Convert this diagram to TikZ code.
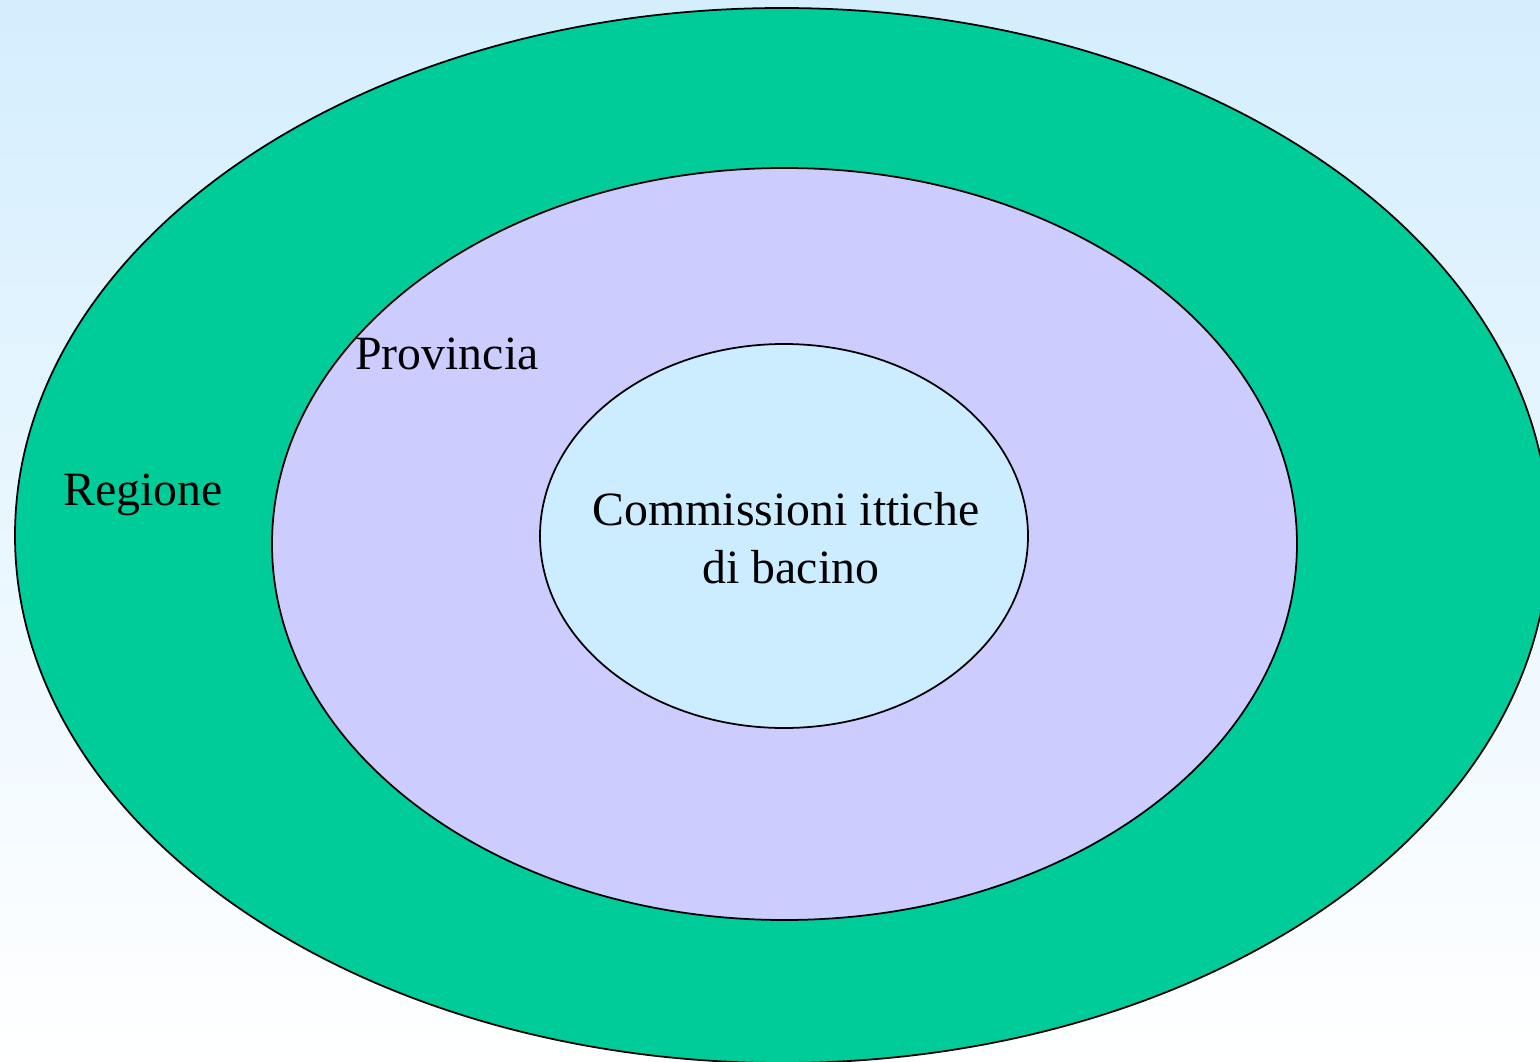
\documentclass[tikz,border=0pt]{standalone}
\usepackage{fontspec}
\setmainfont{Liberation Serif}
\usetikzlibrary{shapes,positioning}

\definecolor{regiongreen}{HTML}{00CC99}
\definecolor{provlilac}{HTML}{CCCCFF}
\definecolor{commblue}{HTML}{CCECFF}
\definecolor{skytop}{HTML}{D4EEFE}

\begin{document}
\begin{tikzpicture}[
    ring/.style={ellipse, draw=black, line width=0.5pt, inner sep=0pt},
    label/.style={font=\fontsize{13.6}{16.5}\selectfont, align=center}
]

% Background
\useasboundingbox (0,0) rectangle (15.4,10.61);
\clip (0,0) rectangle (15.4,10.61);
\shade[top color=skytop, bottom color=white] (0,0) rectangle (15.4,10.61);

% Rings
\node[ring, fill=regiongreen, minimum width=15.34cm, minimum height=10.55cm] (regione) at (7.82, 5.255) {};
\node[ring, fill=provlilac, minimum width=10.25cm, minimum height=7.52cm] (provincia) at (7.845, 5.17) {};
\node[ring, fill=commblue, minimum width=4.88cm, minimum height=3.84cm] (commissioni) at (7.84, 5.25) {};

% Labels
\node[label] (regione_lbl) at (1.43, 5.66) {Regione};
\node[label] (provincia_lbl) at (4.47, 7.07) {Provincia};
\node[label] (commissioni_lbl) at (7.86, 5.23) {Commissioni ittiche\\\hspace*{0.1cm}di bacino};

\end{tikzpicture}
\end{document}
